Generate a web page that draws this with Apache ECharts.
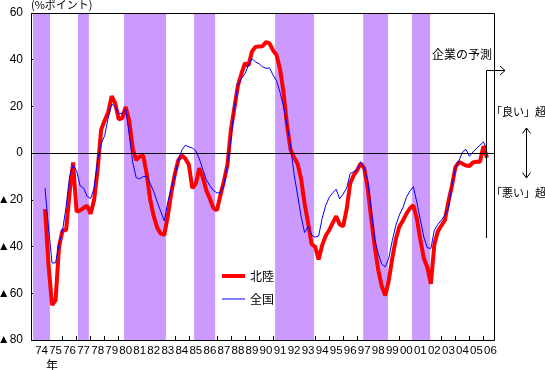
<!DOCTYPE html>
<html><head><meta charset="utf-8">
<script src="https://cdn.jsdelivr.net/npm/echarts@6/dist/echarts.min.js"></script>
<style>html,body{margin:0;padding:0;background:#fff}#c{width:545px;height:370px}</style>
</head><body><div id="c"></div>
<script>
// x axis unit: quarters (0 = left edge of plot, 1 = start of 1974)
const yearLabels = ['74','75','76','77','78','79','80','81','82','83','84','85','86','87','88','89','90',
  '91','92','93','94','95','96','97','98','99','00','01','02','03','04','05','06'];
const firstQuarter = 4;
const hokuriku = [-24,-48,-65,-63,-40,-33,-33,-17,-4,-25,-24.5,-23.5,-22.5,-26,-20,-7,10,14,17.5,24.4,
  21.4,14.5,15,19.8,14,2,-3,-1.5,-1,-9,-20,-27,-32,-34.5,-35,-27,-17,-9,-3,-1,
  -2.3,-5,-15,-13,-6.5,-10.5,-16,-19.5,-23.5,-24.5,-18,-12,-5,10,19.5,29,34,38.5,37.5,43.5,
  45.5,45.7,45.8,47.5,47,44,42,36,26,12,1.5,-1.8,-4.5,-11,-21.5,-30,-39,-40,-45.5,-39.5,
  -35.5,-33,-30,-27,-30.5,-31.3,-24,-13,-9.5,-7.3,-4.4,-6.5,-15,-28,-40,-50,-57,-61,-54.5,-45,
  -37,-31.5,-29,-26,-23.7,-22.3,-28,-37,-45,-49,-56,-39,-33.5,-31,-28.7,-20.8,-14,-6,-3.8,-4.5,
  -5.3,-5.5,-4,-3.7,-3.7,3,-2];
const zenkoku = [-15,-32,-47,-47,-39,-33,-23,-10,-5,-7.5,-14,-15,-18.5,-19.4,-15,-3,4,7.5,15,21,
  20,17,17,19,8,-4,-10.5,-11,-10,-10,-13,-16.5,-21,-25,-29,-21,-15,-10,-3,1.3,
  3.4,2.7,2.2,1,-2.5,-7,-11.5,-14,-16,-17,-17,-13.5,-5,6,20,29,32,34,37.7,40.5,
  39,38.3,37,36.3,36.5,33.5,31,26,20,12,3,-9,-18,-27,-34,-31.5,-35,-36,-35.5,-28,
  -22.5,-19,-17,-15.5,-19.5,-17.5,-15,-8.7,-8,-7,-3.7,-6,-12,-24,-37,-43,-47.5,-48.7,-45,-37.5,
  -31,-26.5,-23.5,-19,-16.3,-14.4,-21,-28.5,-36,-40.5,-40.8,-33,-30.5,-28.7,-26.5,-23.5,-14,-6.5,-3.3,0.5,
  1.6,-1.3,0.5,2,3.4,4.8,1.5];
const recessionStart = [0.6, 13.4, 26.5, 46.5, 69.6, 94.7, 108.6];
const recessionEnd   = [5.4, 16.5, 38.5, 52.5, 80.7, 101.8, 113.8];

const G = {left: 31, top: 13, width: 463, height: 327};
const JP = '"Noto Sans CJK JP"';
const NUM = '"Liberation Sans", "Noto Sans CJK JP"';

const toPairs = arr => arr.map((v, i) => [firstQuarter + i, v]);
const bands = recessionStart.map((s, i) => [{xAxis: s}, {xAxis: recessionEnd[i]}]);

const chart = echarts.init(document.getElementById('c'), null, {renderer: 'canvas'});
chart.setOption({
  animation: false,
  backgroundColor: '#fff',
  grid: {left: G.left, top: G.top, width: G.width, height: G.height, show: false,
    containLabel: false, outerBoundsMode: 'none'},
  legend: {
    data: [
      {name: '北陸', itemStyle: {opacity: 0}, lineStyle: {width: 4, color: '#FF0000'}},
      {name: '全国', itemStyle: {opacity: 0}, lineStyle: {width: 1, color: '#0000FF'}}
    ],
    orient: 'vertical', left: 220, top: 270,
    itemWidth: 23, itemHeight: 14, itemGap: 11, padding: 0,
    textStyle: {fontFamily: JP, fontSize: 12, color: '#000'}
  },
  xAxis: {
    type: 'value', min: 0, max: 132,
    axisLine: {show: false, onZero: false},
    splitLine: {show: false},
    axisTick: {show: true, inside: true, length: 4, lineStyle: {color: '#000'},
      customValues: yearLabels.map((_, i) => 1 + 4 * i)},
    axisLabel: {color: '#000', fontFamily: NUM, fontSize: 11.5, margin: 5,
      customValues: yearLabels.map((_, i) => 3 + 4 * i),
      formatter: v => yearLabels[Math.round((v - 3) / 4)]}
  },
  yAxis: {
    type: 'value', min: -80, max: 60, interval: 20,
    axisLine: {show: false},
    splitLine: {show: false},
    axisTick: {show: true, inside: true, length: 3, lineStyle: {color: '#000'}},
    axisLabel: {color: '#000', fontFamily: NUM, fontSize: 12, margin: 8,
      formatter: v => v < 0 ? '▲' + (-v) : String(v)}
  },
  series: [
    {type: 'line', data: [], silent: true, z: 1,
      markArea: {silent: true, itemStyle: {color: '#CC99FF', opacity: 1}, data: bands}},
    {name: '北陸', type: 'line', data: toPairs(hokuriku), symbol: 'none', z: 3,
      lineStyle: {color: '#FF0000', width: 4}, itemStyle: {color: '#FF0000'},
      markLine: {silent: true, symbol: 'none', label: {show: false},
        lineStyle: {color: '#000', width: 1, type: 'solid'}, data: [{yAxis: 0}]}},
    {name: '全国', type: 'line', data: toPairs(zenkoku), symbol: 'none', z: 4,
      lineStyle: {color: '#0000FF', width: 1}, itemStyle: {color: '#0000FF'}}
  ],
  graphic: [
    {type: 'rect', z: 100, silent: true,
      shape: {x: G.left + 0.5, y: G.top + 0.5, width: G.width, height: G.height},
      style: {fill: 'none', stroke: '#000', lineWidth: 1}},
    {type: 'text', z: 100, left: 31, top: -1,
      style: {text: '(%ポイント)', font: '11px ' + JP, fill: '#000'}},
    {type: 'text', z: 100, x: 52, y: 365,
      style: {text: '年', font: '12px ' + JP, fill: '#000', align: 'center', verticalAlign: 'middle'}},
    {type: 'text', z: 100, x: 492, y: 54,
      style: {text: '企業の予測', font: '12px ' + JP, fill: '#000', align: 'right', verticalAlign: 'middle'}},
    {type: 'polyline', z: 100, shape: {points: [[486.5, 238], [486.5, 70.5], [505, 70.5]]},
      style: {stroke: '#000', lineWidth: 1, fill: 'none'}},
    {type: 'polyline', z: 100, shape: {points: [[500, 66], [505, 70.5], [500, 75]]},
      style: {stroke: '#000', lineWidth: 1, fill: 'none'}},
    {type: 'text', z: 100, x: 491, y: 112,
      style: {text: '「良い」超', font: '11px ' + JP, fill: '#000', align: 'left', verticalAlign: 'middle'}},
    {type: 'text', z: 100, x: 491, y: 193,
      style: {text: '「悪い」超', font: '11px ' + JP, fill: '#000', align: 'left', verticalAlign: 'middle'}},
    {type: 'polyline', z: 100, shape: {points: [[526.5, 128], [526.5, 178]]},
      style: {stroke: '#000', lineWidth: 1, fill: 'none'}},
    {type: 'polyline', z: 100, shape: {points: [[522.5, 133.5], [526.5, 128], [530.5, 133.5]]},
      style: {stroke: '#000', lineWidth: 1, fill: 'none'}},
    {type: 'polyline', z: 100, shape: {points: [[522.5, 172.5], [526.5, 178], [530.5, 172.5]]},
      style: {stroke: '#000', lineWidth: 1, fill: 'none'}}
  ]
});
</script></body></html>
